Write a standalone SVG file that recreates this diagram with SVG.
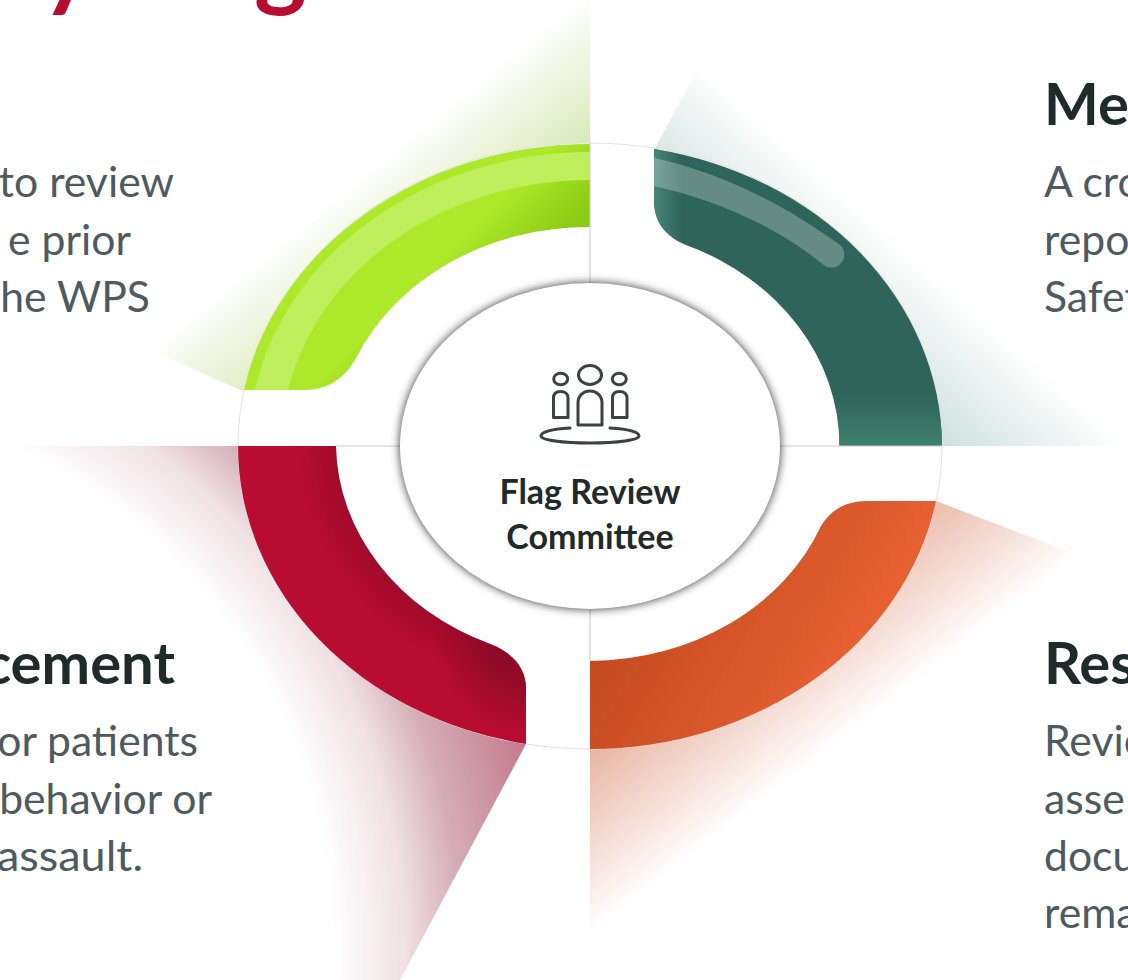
<svg xmlns="http://www.w3.org/2000/svg" width="1128" height="980" viewBox="0 0 1128 980">
<style>
.body{font-family:"Lato","Carlito","Liberation Sans",sans-serif;font-size:42.7px;fill:#4e5a60}
.head{font-family:"Lato","Liberation Sans",sans-serif;font-weight:700;font-size:58px;fill:#1f2a2b}
.lbl{font-family:"Lato","Liberation Sans",sans-serif;font-weight:700;font-size:34px;fill:#1f2a2b;text-anchor:middle}
.title{font-family:"Lato","Liberation Sans",sans-serif;font-weight:700;font-size:100px;fill:#b80d30}
.end{text-anchor:end}
.sep{stroke:#c9c9c9;stroke-width:1;fill:none}
.ic{fill:none;stroke:#3a4242;stroke-width:3;stroke-linejoin:round;stroke-linecap:round}
</style>
<defs>
<linearGradient id="bG" gradientUnits="userSpaceOnUse" x1="369" y1="166" x2="454" y2="271"><stop offset="0" stop-color="#8fc02e" stop-opacity="0"/><stop offset="1" stop-color="#8fc02e" stop-opacity=".38"/></linearGradient>
<linearGradient id="bT" gradientUnits="userSpaceOnUse" x1="914" y1="255" x2="825" y2="355"><stop offset="0" stop-color="#3f8a7a" stop-opacity="0"/><stop offset="1" stop-color="#3f8a7a" stop-opacity=".28"/></linearGradient>
<linearGradient id="bO" gradientUnits="userSpaceOnUse" x1="835" y1="745" x2="745" y2="629"><stop offset="0" stop-color="#d0623c" stop-opacity="0"/><stop offset="1" stop-color="#d0623c" stop-opacity=".48"/></linearGradient>
<radialGradient id="bR" gradientUnits="userSpaceOnUse" cx="-220" cy="950" r="800"><stop offset=".69" stop-color="#8a1a36" stop-opacity="0"/><stop offset=".78" stop-color="#8a1a36" stop-opacity=".13"/><stop offset=".85" stop-color="#8a1a36" stop-opacity=".36"/><stop offset=".97" stop-color="#9a1636" stop-opacity=".58"/></radialGradient>
<linearGradient id="fG" gradientUnits="userSpaceOnUse" x1="510" y1="190" x2="556" y2="236"><stop offset="0" stop-color="#ade82a"/><stop offset="1" stop-color="#8ccc14"/></linearGradient>
<radialGradient id="fR" gradientUnits="userSpaceOnUse" cx="0" cy="0" r="1" gradientTransform="translate(590 446) scale(352 303)"><stop offset=".71" stop-color="#a00a2a"/><stop offset=".83" stop-color="#b80d30"/></radialGradient>
<radialGradient id="fR2" gradientUnits="userSpaceOnUse" cx="530" cy="640" r="95"><stop offset="0" stop-color="#8a0a26" stop-opacity=".95"/><stop offset=".45" stop-color="#8a0a26" stop-opacity=".8"/><stop offset="1" stop-color="#8a0a26" stop-opacity="0"/></radialGradient>
<linearGradient id="fO" gradientUnits="userSpaceOnUse" x1="640" y1="590" x2="820" y2="700"><stop offset="0" stop-color="#c44a20"/><stop offset="1" stop-color="#e66032"/></linearGradient>
<linearGradient id="tB" gradientUnits="userSpaceOnUse" x1="0" y1="395" x2="0" y2="446"><stop offset="0" stop-color="#40806f" stop-opacity="0"/><stop offset="1" stop-color="#40806f"/></linearGradient>
<linearGradient id="tL" gradientUnits="userSpaceOnUse" x1="654" y1="0" x2="682" y2="0"><stop offset="0" stop-color="#47857a"/><stop offset="1" stop-color="#47857a" stop-opacity="0"/></linearGradient>
<filter id="soft" x="-15%" y="-15%" width="130%" height="130%"><feGaussianBlur stdDeviation="5"/></filter>
<path id="tp" d="M654,149 A352 303 0 0 1 942,446 L839.5,446 A250 218 0 0 0 686,245 C665,236 654,222 654,200 Z"/>
<path id="rp" d="M238,446 A352 303 0 0 0 526,744 L526,688 C526,668 512,652 490,644 A253 219 0 0 1 336,446 Z"/>
</defs>

<g id="title">
<text class="title" x="41" y="-2">y</text>
<text class="title" x="254" y="-2">g</text>
</g>

<g id="beams">
<path d="M590,-8 L590,210 L245,392 L155,352 Z" fill="url(#bG)"/>
<path d="M700,65 L1128,446 L800,446 L654,150 Z" fill="url(#bT)"/>
<path d="M936,501 L1080,556 L590,935 L590,700 Z" fill="url(#bO)"/>
<path d="M0,446 L590,446 L526,744 L400,980 L340,980 L0,700 Z" fill="url(#bR)"/>
</g>

<g id="ring">
<ellipse cx="590" cy="446" rx="352" ry="303" fill="#fff" stroke="#e2e2e2" stroke-width="1"/>
</g>

<g id="segment-green">
<path d="M590,144 A352 303 0 0 0 244,390 L304,390 C328,390 345,378 356,358 A254 219 0 0 1 590,227 Z" fill="url(#fG)"/>
<path d="M590,152 A341 294 0 0 0 255,390 L288,390 A309 266 0 0 1 590,180 Z" fill="#bfee5c"/>
</g>
<g id="segment-teal">
<use href="#tp" fill="#2f645a"/>
<use href="#tp" fill="url(#tB)"/>
<use href="#tp" fill="url(#tL)"/>
<path d="M654,158 C720,172 785,205 840,245 A13 13 0 0 1 825,266 C775,225 715,200 654,186 Z" fill="#fff" fill-opacity=".26"/>
</g>
<g id="segment-orange">
<path d="M936,501 A352 303 0 0 1 590,749 L590,661 A250 215 0 0 0 821,526 C832,508 848,501 867,501 Z" fill="url(#fO)"/>
</g>
<g id="segment-red">
<use href="#rp" fill="url(#fR)"/>
<use href="#rp" fill="url(#fR2)"/>
</g>

<g id="connectors">
<line class="sep" x1="590" y1="143" x2="590" y2="285"/>
<line class="sep" x1="590" y1="607" x2="590" y2="661"/>
<line class="sep" x1="336" y1="446" x2="402" y2="446"/>
<line class="sep" x1="778" y1="446" x2="942" y2="446"/>
</g>

<g id="center">
<ellipse cx="590" cy="446" rx="190" ry="163" fill="#000" fill-opacity=".8" filter="url(#soft)"/>
<ellipse cx="590" cy="446" rx="190" ry="163" fill="#fff"/>
<ellipse class="ic" cx="590" cy="375" rx="11.5" ry="9.5"/>
<ellipse class="ic" cx="560.7" cy="379" rx="7" ry="5.8"/>
<ellipse class="ic" cx="619.3" cy="379" rx="7" ry="5.8"/>
<path class="ic" d="M578,425 V403 C578,396 583,391 590,391 C597,391 602,396 602,403 V425 Z"/>
<path class="ic" d="M553.5,417.5 V398 C553.5,394 556,391.5 560.5,391.5 C565,391.5 568,394 568,398 V417.5 Z"/>
<path class="ic" d="M612.5,417.5 V398 C612.5,394 615,391.5 619.5,391.5 C624,391.5 627,394 627,398 V417.5 Z"/>
<path class="ic" d="M570,428 C552,429 541,432 541,436 C541,440 562,443 590,443 C618,443 639,440 639,436 C639,432 628,429 610,428"/>
<text class="lbl" x="590" y="504">Flag Review</text>
<text class="lbl" x="590" y="549">Committee</text>
</g>

<g id="text-left">
<text class="body end" x="174" y="197">to review</text>
<text class="body end" x="131" y="255">e prior</text>
<text class="body end" x="150" y="312">he WPS</text>
<text class="head end" x="175" y="684">cement</text>
<text class="body end" x="198" y="756">or patients</text>
<text class="body end" x="212" y="814">behavior or</text>
<text class="body end" x="143" y="871" textLength="146" lengthAdjust="spacingAndGlyphs">assault.</text>
</g>
<g id="text-right">
<text class="head" x="1044" y="125">Me</text>
<text class="body" x="1044" y="197">A cro</text>
<text class="body" x="1044" y="255">repo</text>
<text class="body" x="1044" y="312">Safet</text>
<text class="head" x="1044" y="684">Res</text>
<text class="body" x="1044" y="756">Revie</text>
<text class="body" x="1044" y="814">asse</text>
<text class="body" x="1044" y="871">docu</text>
<text class="body" x="1044" y="928">rema</text>
</g>
</svg>
